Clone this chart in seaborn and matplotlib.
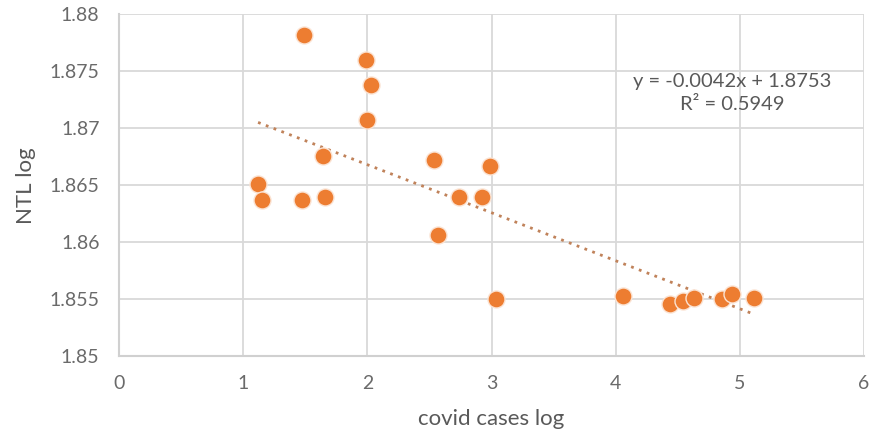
import matplotlib
matplotlib.use("Agg")
import matplotlib.pyplot as plt
import numpy as np
import pandas as pd
import seaborn as sns

# values
covid_cases_log = [1.12, 1.15, 1.49, 1.47, 1.64, 1.66, 1.99, 2.03, 2.00, 2.54, 2.57,
                   2.74, 2.92, 2.99, 3.04, 4.06, 4.44, 4.54, 4.63, 4.86, 4.94, 5.11]
ntl_log = [1.8651, 1.8637, 1.8782, 1.8637, 1.8676, 1.8640, 1.8760, 1.8738, 1.8707, 1.8672, 1.8606,
           1.8640, 1.8640, 1.8667, 1.8550, 1.8553, 1.8546, 1.8548, 1.8551, 1.8550, 1.8554, 1.8551]
x_ticks = [0, 1, 2, 3, 4, 5, 6]
y_ticks = [1.85, 1.855, 1.86, 1.865, 1.87, 1.875, 1.88]
y_ticklabels = ["1.85", "1.855", "1.86", "1.865", "1.87", "1.875", "1.88"]
equation = "y = -0.0042x + 1.8753"
r_squared = "R² = 0.5949"

df = pd.DataFrame({"covid": covid_cases_log, "ntl": ntl_log})

sns.set_style("white")
plt.rcParams['font.family'] = ['Lato', 'DejaVu Sans']

fig = plt.figure(figsize=(8.71, 4.37), dpi=100)
ax = fig.add_axes([0.1366, 0.1854, 0.8554, 0.7816])

sns.regplot(data=df, x="covid", y="ntl", ax=ax, ci=None,
            scatter_kws={"s": 150, "color": "#ED7D31", "edgecolor": "#fbe3d3",
                         "linewidths": 1.0, "alpha": 1, "zorder": 3},
            line_kws={"color": "#c0825a", "linestyle": (0, (1, 2.0)), "linewidth": 2.0,
                      "zorder": 2})

ax.set_xlim(0, 6)
ax.set_ylim(1.85, 1.88)
ax.set_xticks(x_ticks)
ax.set_yticks(y_ticks)
ax.set_yticklabels(y_ticklabels)
ax.grid(True, color="#d9d9d9", linewidth=1.3)
ax.set_axisbelow(True)
for s in ax.spines.values():
    s.set_visible(False)
ax.spines["bottom"].set_visible(True)
ax.spines["bottom"].set_color("#d0d0d0")
ax.spines["bottom"].set_linewidth(1.5)
ax.spines["left"].set_visible(True)
ax.spines["left"].set_color("#d0d0d0")
ax.spines["left"].set_linewidth(1.5)
ax.tick_params(axis="both", length=0, labelsize=14, colors="#6a6a6a")
ax.tick_params(axis="x", pad=14)
ax.tick_params(axis="y", pad=14)

ax.set_xlabel("covid cases log", fontsize=16, color="#595959", labelpad=12)
ax.set_ylabel("NTL log", fontsize=16, color="#595959", labelpad=10)

ax.text(4.94, 1.8741, equation, ha="center", va="center", fontsize=14.5, color="#595959")
ax.text(4.94, 1.8721, r_squared, ha="center", va="center", fontsize=14.5, color="#595959")

fig.savefig("out.png", dpi=100)
